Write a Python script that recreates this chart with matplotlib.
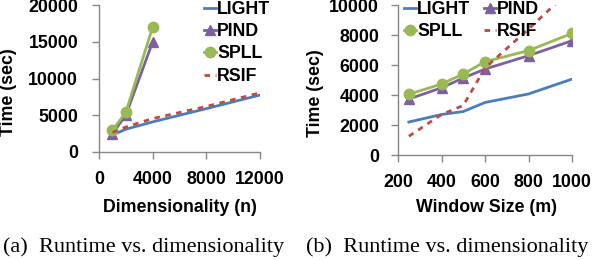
import matplotlib
matplotlib.use("Agg")
import matplotlib.pyplot as plt

# Left chart data (Dimensionality n)
dim_n = [1000, 2000, 4000, 8000, 12000]
dim_light = [2300, 3100, 4100, 5900, 7750]
dim_rsif = [2650, 3400, 4550, 6200, 8050]
dim_n_short = [1000, 2000, 4000]
dim_pind = [2500, 5000, 15000]
dim_spll = [2950, 5400, 17000]

# Right chart data (Window size m)
win_m = [250, 400, 500, 600, 800, 1000]
win_light = [2200, 2700, 2900, 3500, 4070, 5060]
win_pind = [3730, 4480, 5130, 5730, 6620, 7620]
win_spll = [4050, 4730, 5400, 6220, 6960, 8110]
win_rsif = [1250, 2700, 3300, 5800, 8400, 11100]

left_xticks = [0, 4000, 8000, 12000]
left_yticks = [0, 5000, 10000, 15000, 20000]
right_xticks = [200, 400, 600, 800, 1000]
right_yticks = [0, 2000, 4000, 6000, 8000, 10000]

C_LIGHT = "#4a7ebb"
C_PIND = "#7d60a0"
C_SPLL = "#98b954"
C_RSIF = "#be4b48"
AX_COL = "#868686"

FS = 12.8
FONT = "Liberation Sans"

W, H = 592.0, 260.0
fig = plt.figure(figsize=(5.92, 2.6), dpi=100)

def fx(px):
    return px / W

def fy(py):
    return 1 - py / H

def style(ax, ypad):
    for s in ["top", "right"]:
        ax.spines[s].set_visible(False)
    for s in ["left", "bottom"]:
        ax.spines[s].set_color(AX_COL)
        ax.spines[s].set_linewidth(1.0)
    ax.tick_params(axis="both", colors=AX_COL, length=5, width=1.0,
                   labelcolor="black", labelsize=FS, direction="out")
    ax.tick_params(axis="x", pad=8.5)
    ax.tick_params(axis="y", pad=ypad)
    for lab in ax.get_xticklabels() + ax.get_yticklabels():
        lab.set_fontweight("bold")
        lab.set_family(FONT)

def labels(ax, xl, xl_pos, yl, yl_pos):
    ax.set_xlabel(xl, fontsize=FS, fontweight="bold", family=FONT)
    ax.set_ylabel(yl, fontsize=FS, fontweight="bold", family=FONT)
    ax.xaxis.set_label_coords(fx(xl_pos[0]), fy(xl_pos[1]), transform=fig.transFigure)
    ax.xaxis.label.set_va("center")
    ax.yaxis.set_label_coords(fx(yl_pos[0]), fy(yl_pos[1]), transform=fig.transFigure)
    ax.yaxis.label.set_va("center")
    ax.yaxis.label.set_rotation_mode("anchor")

leg_kw = dict(frameon=False, prop={"family": FONT, "weight": "bold", "size": FS},
              handlelength=0.7, handletextpad=0.05, labelspacing=0.3,
              borderpad=0, borderaxespad=0, bbox_transform=fig.transFigure)

# Left axes: plot area x 99..260 px, y 5..152 px
ax1 = fig.add_axes([fx(99), fy(152), fx(260) - fx(99), fy(5) - fy(152)])
ax1.plot(dim_n, dim_light, color=C_LIGHT, lw=2, label="LIGHT")
ax1.plot(dim_n_short, dim_pind, color=C_PIND, lw=2, marker="^", ms=7, label="PIND")
ax1.plot(dim_n_short, dim_spll, color=C_SPLL, lw=2, marker="o", ms=7.5, label="SPLL")
ax1.plot(dim_n, dim_rsif, color=C_RSIF, lw=2, dashes=(2, 2), label="RSIF")
ax1.set_xlim(0, 12000)
ax1.set_ylim(0, 20000)
ax1.set_xticks(left_xticks)
ax1.set_yticks(left_yticks)
ax1.set_xticklabels([str(v) for v in left_xticks])
ax1.set_yticklabels([str(v) for v in left_yticks])
style(ax1, 10)
labels(ax1, "Dimensionality (n)", (180, 208), "Time (sec)", (8.5, 92))
ax1.legend(loc="upper left", bbox_to_anchor=(fx(204), 0.997), **leg_kw)

# Right axes: plot area x 398..572 px, y 5..155 px
ax2 = fig.add_axes([fx(398), fy(155), fx(572) - fx(398), fy(5) - fy(155)])
ax2.plot(win_m, win_light, color=C_LIGHT, lw=2, label="LIGHT")
ax2.plot(win_m, win_pind, color=C_PIND, lw=2, marker="^", ms=7, label="PIND")
ax2.plot(win_m, win_spll, color=C_SPLL, lw=2, marker="o", ms=7.5, label="SPLL")
ax2.plot(win_m, win_rsif, color=C_RSIF, lw=2, dashes=(2, 2), label="RSIF")
ax2.set_xlim(200, 1000)
ax2.set_ylim(0, 10000)
ax2.set_xticks(right_xticks)
ax2.set_yticks(right_yticks)
ax2.set_xticklabels([str(v) for v in right_xticks])
ax2.set_yticklabels([str(v) for v in right_yticks])
style(ax2, 8.5)
labels(ax2, "Window Size (m)", (486, 208), "Time (sec)", (315, 93))
h, l = ax2.get_legend_handles_labels()
order = [0, 2, 1, 3]
ax2.legend([h[i] for i in order], [l[i] for i in order], ncol=2,
           loc="upper left", bbox_to_anchor=(fx(404), 0.997), columnspacing=0.75, **leg_kw)

# Captions
fig.text(fx(3), fy(247), "(a)  Runtime vs. dimensionality", family="Liberation Serif",
         fontsize=16, ha="left", va="center")
fig.text(fx(306), fy(247), "(b)  Runtime vs. dimensionality", family="Liberation Serif",
         fontsize=16, ha="left", va="center")

fig.savefig("out.png", dpi=100)
